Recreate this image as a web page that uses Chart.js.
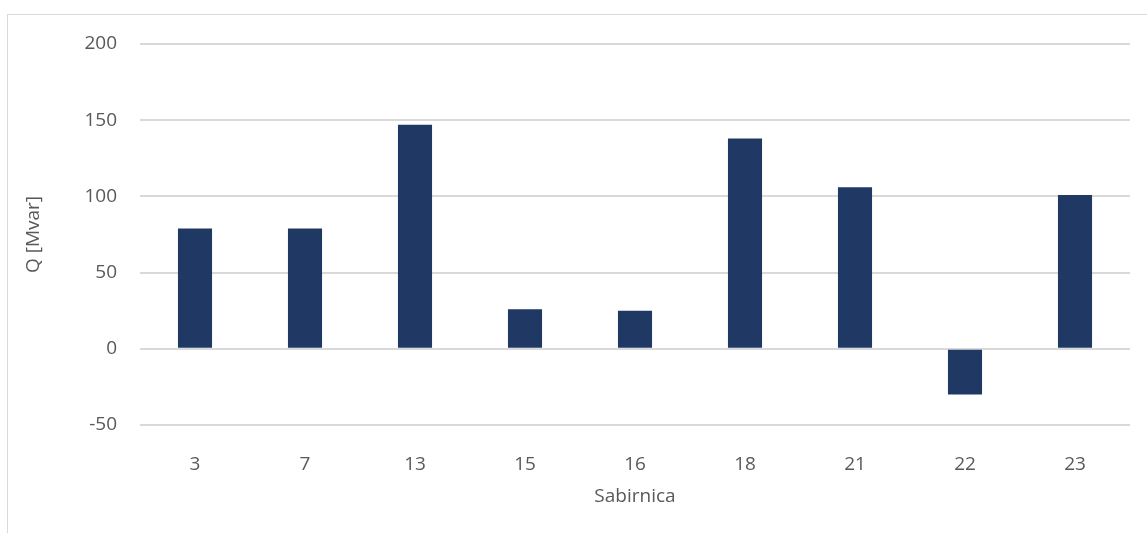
<!DOCTYPE html>
<html>
<head>
<meta charset="utf-8">
<script src="https://cdn.jsdelivr.net/npm/chart.js@4"></script>
<style>
  html, body { margin: 0; padding: 0; background: #fff; overflow: hidden; }
  #frame {
    position: absolute; left: 7px; top: 14px;
    width: 1200px; height: 600px;
    border: 1px solid #d9d9d9;
  }
  #wrap { position: absolute; left: 0; top: 0; width: 1147px; height: 533px; }
</style>
</head>
<body>
<div id="frame"></div>
<div id="wrap"><canvas id="chart"></canvas></div>
<script>
// podaci sa grafika
const sabirnice = ["3", "7", "13", "15", "16", "18", "21", "22", "23"];
const qValues = [79, 79, 147, 26, 25, 138, 106, -30, 101];
const yTicks = [-50, 0, 50, 100, 150, 200];

const textColor = "#595959";
const gridColor = "#d9d9d9";
const font = { family: "'Open Sans', sans-serif", size: 19 };

const ctx = document.querySelector("#chart").getContext("2d");

new Chart(ctx, {
  type: "bar",
  data: {
    labels: sabirnice,
    datasets: [
      {
        label: "Q",
        data: qValues,
        backgroundColor: "#203864",
        borderWidth: 0,
        barPercentage: 0.31,
        categoryPercentage: 1,
      },
    ],
  },
  options: {
    responsive: true,
    maintainAspectRatio: false,
    animation: false,
    layout: { padding: { top: 44, right: 17, bottom: 0, left: 0 } },
    plugins: {
      legend: { display: false },
      tooltip: { enabled: false },
    },
    scales: {
      x: {
        grid: { display: false },
        border: { display: false },
        ticks: { color: textColor, font: font, padding: 20 },
        title: {
          display: true,
          text: "Sabirnica",
          color: textColor,
          font: font,
          padding: { top: 0, bottom: 25 },
        },
        afterFit: (scale) => { scale.height = 108; },
      },
      y: {
        min: yTicks[0],
        max: yTicks[yTicks.length - 1],
        grid: { color: gridColor, lineWidth: 2, drawTicks: false },
        border: { display: false },
        ticks: {
          stepSize: 50,
          color: textColor,
          font: font,
          padding: 23,
        },
        afterBuildTicks: (scale) => {
          scale.ticks = yTicks.map((v) => ({ value: v }));
        },
        title: {
          display: true,
          text: "Q [Mvar]",
          color: textColor,
          font: font,
          padding: { top: 22, bottom: 0 },
        },
        afterFit: (scale) => { scale.width = 140; },
      },
    },
  },
});
</script>
</body>
</html>
